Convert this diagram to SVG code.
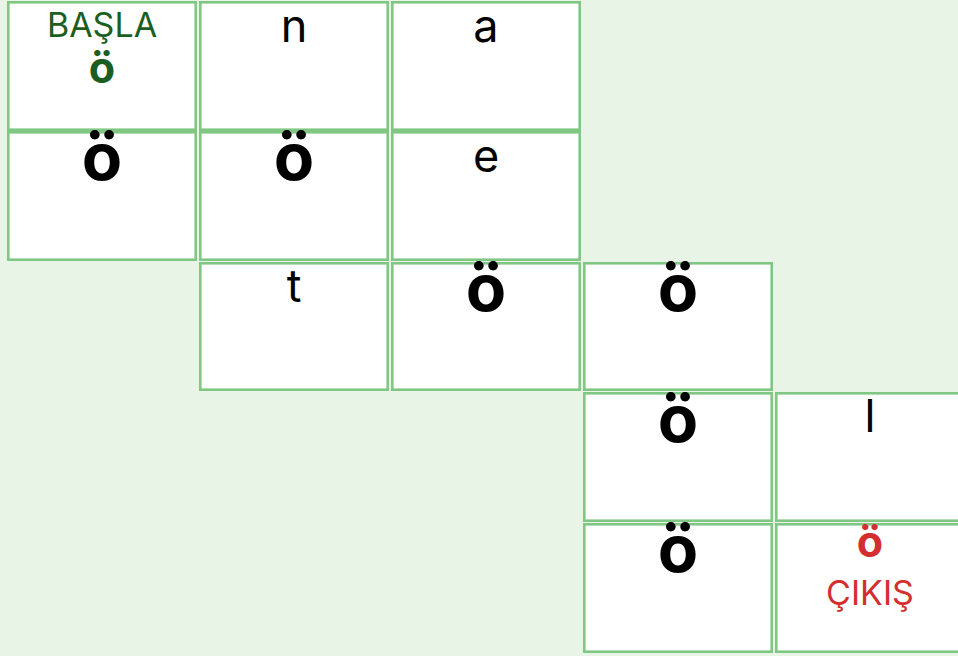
<svg xmlns="http://www.w3.org/2000/svg" width="958" height="656" viewBox="0 0 958 656">
<style>
.cell{fill:#ffffff;stroke:#81c784;stroke-width:2.6}
.t{font-family:Inter,"Noto Sans","Liberation Sans",sans-serif;text-anchor:middle;fill:#000}
.l{font-size:45px}
.b{font-size:66px;font-weight:700}
.lab{font-size:34px}
.go{font-size:43px;font-weight:700}
</style>
<rect width="958" height="656" fill="#e8f5e6"/>
<g id="c00"><rect class="cell" x="8.3" y="2.3" width="187.4" height="127.4"/><text class="t lab" x="102" y="37" style="fill:#1b5e20">BAŞLA</text><text class="t go" x="102" y="83" style="fill:#1b5e20">ö</text></g>
<g id="c01"><rect class="cell" x="200.3" y="2.3" width="187.4" height="127.4"/><text class="t l" x="294" y="42">n</text></g>
<g id="c02"><rect class="cell" x="392.3" y="2.3" width="187.4" height="127.4"/><text class="t l" x="486" y="42">a</text></g>
<g id="c10"><rect class="cell" x="8.3" y="132.3" width="187.4" height="127.4"/><text class="t b" x="102" y="180">ö</text></g>
<g id="c11"><rect class="cell" x="200.3" y="132.3" width="187.4" height="127.4"/><text class="t b" x="294" y="180">ö</text></g>
<g id="c12"><rect class="cell" x="392.3" y="132.3" width="187.4" height="127.4"/><text class="t l" x="486" y="172">e</text></g>
<g id="c21"><rect class="cell" x="200.3" y="263.3" width="187.4" height="126.4"/><text class="t l" x="294" y="302">t</text></g>
<g id="c22"><rect class="cell" x="392.3" y="263.3" width="187.4" height="126.4"/><text class="t b" x="486" y="311">ö</text></g>
<g id="c23"><rect class="cell" x="584.3" y="263.3" width="187.4" height="126.4"/><text class="t b" x="678" y="311">ö</text></g>
<g id="c33"><rect class="cell" x="584.3" y="393.3" width="187.4" height="127.4"/><text class="t b" x="678" y="442">ö</text></g>
<g id="c34"><rect class="cell" x="776.3" y="393.3" width="200" height="127.4"/><text class="t l" x="870" y="432">l</text></g>
<g id="c43"><rect class="cell" x="584.3" y="524.3" width="187.4" height="127.4"/><text class="t b" x="678" y="572">ö</text></g>
<g id="c44"><rect class="cell" x="776.3" y="524.3" width="200" height="127.4"/><text class="t go" x="870" y="557" style="fill:#d32f2f">ö</text><text class="t lab" x="870" y="605" style="fill:#d32f2f">ÇIKIŞ</text></g>
<g id="connectors"></g>
</svg>
